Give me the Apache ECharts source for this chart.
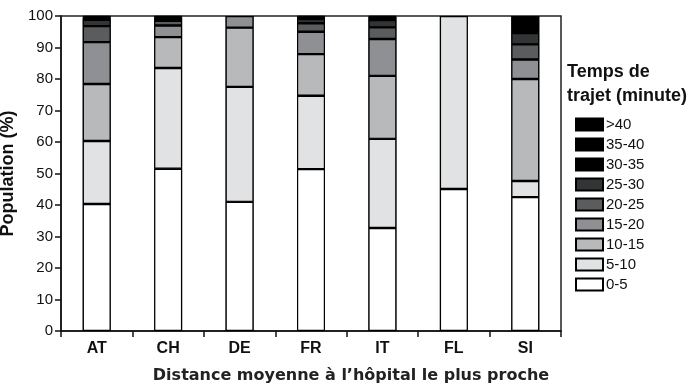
<!DOCTYPE html>
<html>
<head>
<meta charset="utf-8">
<script src="https://cdn.jsdelivr.net/npm/echarts@6/dist/echarts.min.js"></script>
<style>html,body{margin:0;padding:0;background:#fff;}#c{width:692px;height:390px;}</style>
</head>
<body>
<div id="c"></div>
<script>
const categories = ['AT', 'CH', 'DE', 'FR', 'IT', 'FL', 'SI'];
const yTicks = [0, 10, 20, 30, 40, 50, 60, 70, 80, 90, 100];
const bandNames = ['0-5', '5-10', '10-15', '15-20', '20-25', '25-30', '30-35', '35-40', '>40'];
const v0_5   = [40.3, 51.5, 41.0, 51.4, 32.7, 45.1, 42.5];
const v5_10  = [20.0, 32.0, 36.5, 23.3, 28.3, 54.9, 5.1];
const v10_15 = [18.1, 9.8, 18.8, 13.2, 20.0, 0, 32.4];
const v15_20 = [13.3, 3.7, 3.7, 7.1, 11.7, 0, 6.2];
const v20_25 = [5.1, 1.5, 0, 2.7, 3.7, 0, 4.8];
const v25_30 = [2.0, 0.8, 0, 1.3, 2.3, 0, 3.6];
const v30_35 = [0.6, 0.3, 0, 0.5, 0.6, 0, 1.8];
const v35_40 = [0.3, 0.2, 0, 0.3, 0.4, 0, 1.8];
const vGt40  = [0.3, 0.2, 0, 0.2, 0.3, 0, 1.8];
const bandValues = [v0_5, v5_10, v10_15, v15_20, v20_25, v25_30, v30_35, v35_40, vGt40];
const bandColors = ['#ffffff', '#e1e2e3', '#b7b9bb', '#8e9093', '#5b5c5e', '#333435', '#000000', '#000000', '#000000'];

const totals = categories.map((c, j) => bandValues.reduce((s, arr) => s + arr[j], 0));

const chart = echarts.init(document.getElementById('c'), null, {renderer: 'canvas'});
const series = [{
  name: 'backing',
  type: 'bar',
  barWidth: 28,
  barGap: '-100%',
  z: 1,
  data: totals,
  itemStyle: {color: '#000'},
  emphasis: {disabled: true},
  silent: true
}].concat(bandNames.map((n, i) => ({
  name: n,
  type: 'bar',
  stack: 'total',
  barWidth: 28,
  z: 2,
  data: bandValues[i].map(v => v === 0 ? null : v),
  itemStyle: {color: bandColors[i], borderColor: '#000', borderWidth: 1.2},
  emphasis: {disabled: true}
})));
chart.setOption({
  animation: false,
  grid: {left: 61, right: 131, top: 16, bottom: 59, outerBoundsMode: 'none', containLabel: false, show: true, borderColor: '#222', borderWidth: 1.5, backgroundColor: 'transparent'},
  legend: {
    orient: 'vertical', left: 570, top: 111,
    icon: 'rect',
    itemWidth: 27, itemHeight: 12, itemGap: 3,
    data: bandNames.slice().reverse(),
    textStyle: {fontFamily: 'Liberation Sans', fontSize: 15, color: '#111', lineHeight: 17, padding: [0, 0, 0, -2]},
    selectedMode: false
  },
  xAxis: {
    type: 'category', data: categories,
    axisLine: {lineStyle: {color: '#111', width: 1.5}},
    axisTick: {show: true, length: 6, lineStyle: {color: '#111', width: 1.5}},
    axisLabel: {fontFamily: 'Liberation Sans', fontWeight: 'bold', fontSize: 16, color: '#111', margin: 10}
  },
  yAxis: {
    type: 'value', min: yTicks[0], max: yTicks[yTicks.length - 1], interval: 10,
    name: 'Population (%)', nameLocation: 'middle', nameGap: 22,
    nameTextStyle: {fontFamily: 'Liberation Sans', fontWeight: 'bold', fontSize: 18, color: '#111'},
    axisLine: {show: true, lineStyle: {color: '#111', width: 1.5}},
    axisTick: {show: true, length: 6, lineStyle: {color: '#111', width: 1.5}},
    axisLabel: {fontFamily: 'Liberation Sans', fontSize: 15, color: '#111', margin: 8},
    splitLine: {show: false}
  },
  graphic: [
    {type: 'text', left: 567, top: 63, style: {text: 'Temps de', font: 'bold 18px "Liberation Sans"', fill: '#111'}},
    {type: 'text', left: 567, top: 87, style: {text: 'trajet (minute)', font: 'bold 18px "Liberation Sans"', fill: '#111'}},
    {type: 'text', x: 351, y: 376, style: {text: 'Distance moyenne à l\u2019hôpital le plus proche', font: 'bold 16px "DejaVu Sans"', fill: '#222', align: 'center', verticalAlign: 'middle'}}
  ],
  series: series
});
</script>
</body>
</html>
